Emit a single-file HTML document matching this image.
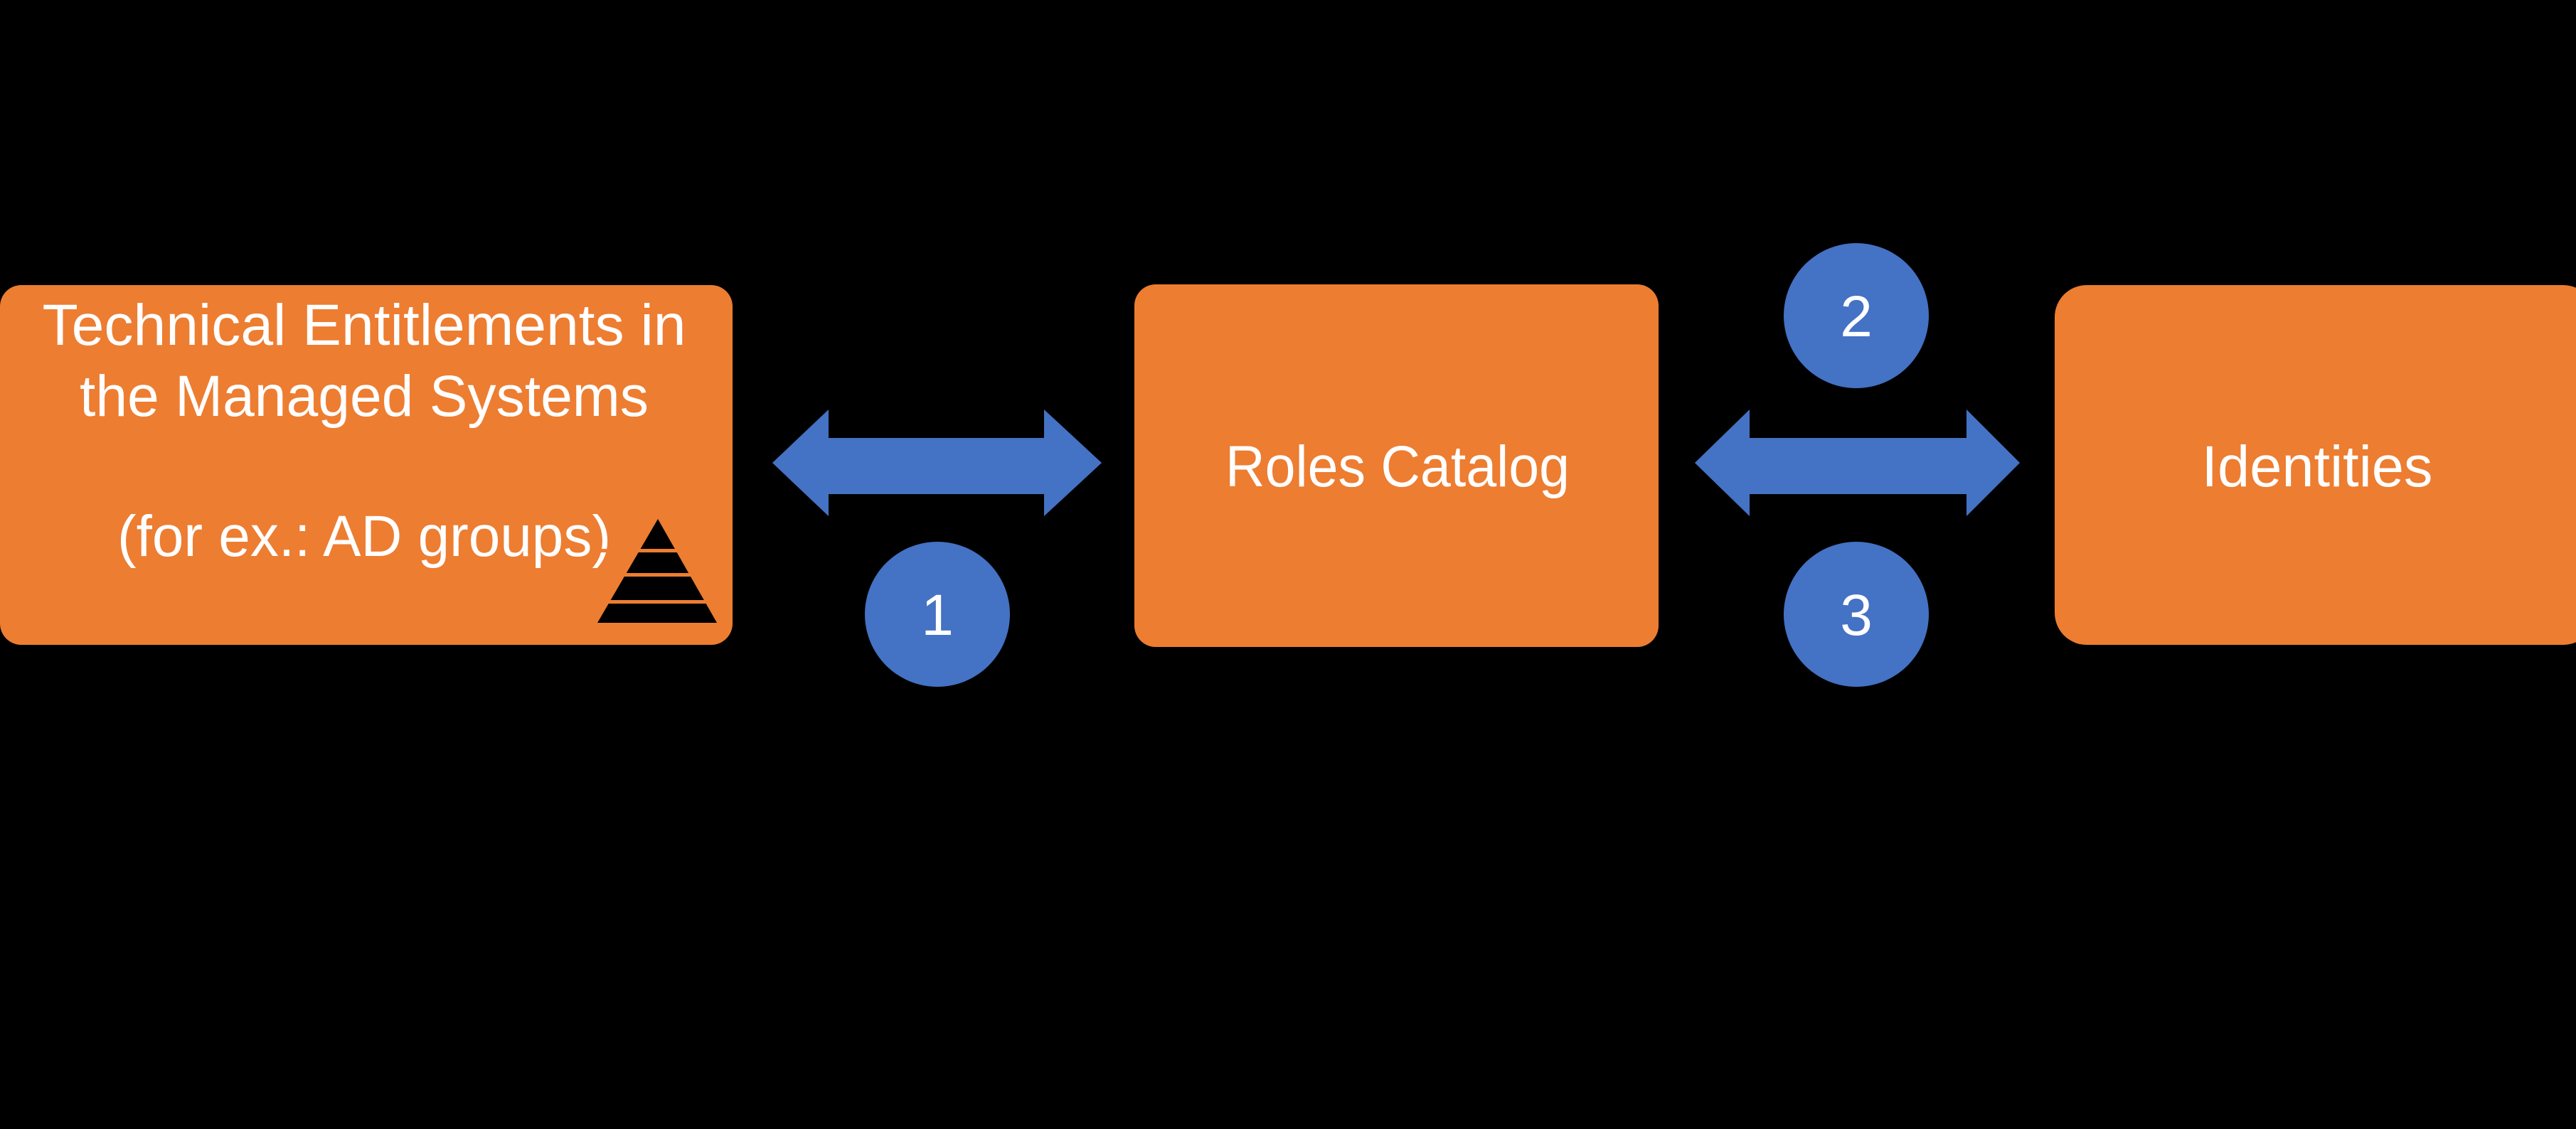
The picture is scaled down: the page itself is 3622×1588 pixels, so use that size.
<!DOCTYPE html>
<html><head><meta charset="utf-8"><style>
html,body{margin:0;padding:0;background:#000;}
svg{display:block;}
text{font-family:"Liberation Sans",sans-serif;fill:#fff;}
</style></head><body>
<svg width="3622" height="1588" viewBox="0 0 3622 1588" xmlns="http://www.w3.org/2000/svg">
<rect width="3622" height="1588" fill="#000"/>
<rect x="0" y="401" width="1030" height="506" rx="30" fill="#ed7d31"/>
<rect x="1595" y="400" width="737" height="510" rx="30" fill="#ed7d31"/>
<rect x="2889" y="401" width="760" height="506" rx="45" fill="#ed7d31"/>
<polygon points="1086,651 1165,576 1165,616 1468,616 1468,576 1549,651 1468,726 1468,695 1165,695 1165,726" fill="#4472c4"/>
<polygon points="2383,651 2460,576 2460,616 2765,616 2765,576 2840,651 2765,726 2765,695 2460,695 2460,726" fill="#4472c4"/>
<circle cx="1318" cy="864" r="102" fill="#4472c4"/>
<circle cx="2610" cy="444" r="102" fill="#4472c4"/>
<circle cx="2610" cy="864" r="102" fill="#4472c4"/>
<text x="1318" y="893" font-size="82" text-anchor="middle">1</text>
<text x="2610" y="473" font-size="82" text-anchor="middle">2</text>
<text x="2610" y="893" font-size="82" text-anchor="middle">3</text>
<text x="512" y="485" font-size="82" text-anchor="middle" textLength="905" lengthAdjust="spacingAndGlyphs">Technical Entitlements in</text>
<text x="512" y="585" font-size="82" text-anchor="middle" textLength="800" lengthAdjust="spacingAndGlyphs">the Managed Systems</text>
<text x="165" y="782" font-size="82" textLength="694" lengthAdjust="spacingAndGlyphs">(for ex.: AD groups)</text>
<text x="1965" y="684" font-size="82" text-anchor="middle" textLength="484" lengthAdjust="spacingAndGlyphs">Roles Catalog</text>
<text x="3258" y="684" font-size="82" text-anchor="middle" textLength="325" lengthAdjust="spacingAndGlyphs">Identities</text>
<polygon points="925,730 1008,876 840,876" fill="#000"/>
<rect x="830" y="772" width="190" height="5" fill="#ed7d31"/>
<rect x="830" y="806" width="190" height="5" fill="#ed7d31"/>
<rect x="830" y="844" width="190" height="5" fill="#ed7d31"/>
</svg>
</body></html>
